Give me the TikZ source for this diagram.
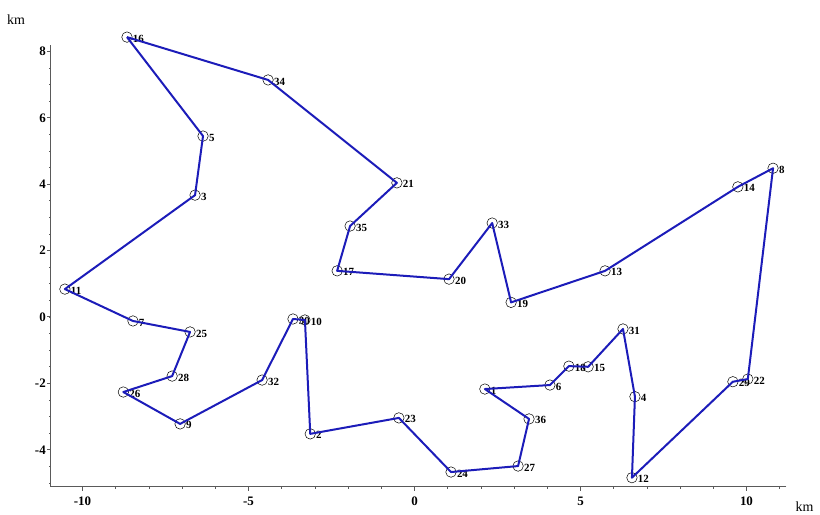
\documentclass[tikz,border=0pt]{standalone}
\usepackage{fontspec}
\setmainfont{Liberation Serif}
\definecolor{tourblue}{RGB}{28,28,185}
\definecolor{axisgray}{RGB}{90,90,90}
\begin{document}
\begin{tikzpicture}[x=33.2bp,y=33.2bp,
  pt/.style={circle,draw=black,line width=0.5bp,minimum size=10.5bp,inner sep=0pt},
  lbl/.style={font=\fontsize{11}{12}\selectfont\bfseries,inner sep=0.3bp,yshift=-1.5bp},
  tour/.style={draw=tourblue,line width=2bp,line join=round},
  axisline/.style={draw=axisgray,line width=1bp},
  ticklbl/.style={font=\fontsize{13}{14}\selectfont\bfseries,inner sep=0pt},
  unitlbl/.style={font=\fontsize{14}{16}\selectfont,inner sep=0pt}]
\useasboundingbox (-12.485,-5.964) rectangle (12.214,9.548);
% axes
\coordinate (o) at (-10.95,-5.12);
\coordinate (xe) at (11.2,-5.12);
\coordinate (ye) at (-10.95,8.18);
\draw[axisline] (xe) -- (o) -- (ye);
\foreach \t in {-10,-9,...,11} \draw[axisline,line width=0.6bp] (\t,-5.12) -- (\t,-5.19);
\foreach \t in {-10,-5,0,5,10} {
  \draw[axisline] (\t,-5.12) -- (\t,-5.24);
  \node[ticklbl] at (\t,-5.55) {\t};
}
\foreach \t in {-5,-4.5,...,8} \draw[axisline,line width=0.6bp] (-10.95,\t) -- (-11.02,\t);
\foreach \t in {-4,-2,0,2,4,6,8} {
  \draw[axisline] (-10.95,\t) -- (-11.07,\t);
  \node[ticklbl,anchor=east] at (-11.1,\t) {\t};
}
\node[unitlbl] (kmy) at (-12.0,8.95) {km};
\node[unitlbl] (kmx) at (11.75,-5.72) {km};
% points
\foreach \n/\x/\y in {
  1/2.12/-2.17, 2/-3.14/-3.52, 3/-6.61/3.67, 4/6.64/-2.40, 5/-6.37/5.45,
  6/4.08/-2.05, 7/-8.48/-0.12, 8/10.80/4.48, 9/-7.06/-3.22, 10/-3.30/-0.09,
  11/-10.53/0.84, 12/6.55/-4.84, 13/5.74/1.39, 14/9.74/3.92, 15/5.23/-1.50,
  16/-8.66/8.43, 17/-2.33/1.39, 18/4.65/-1.48, 19/2.91/0.44, 20/1.04/1.14,
  21/-0.53/4.04, 22/10.04/-1.87, 23/-0.47/-3.04, 24/1.10/-4.67, 25/-6.76/-0.45,
  26/-8.77/-2.26, 27/3.12/-4.49, 28/-7.30/-1.78, 29/9.59/-1.95, 30/-3.66/-0.06,
  31/6.28/-0.36, 32/-4.59/-1.90, 33/2.34/2.83, 34/-4.41/7.14, 35/-1.94/2.74,
  36/3.45/-3.07}
  \node[pt,label={[lbl]0:\n}] (p\n) at (\x,\y) {};
% tour
\draw[tour] (p16.center)
  \foreach \n in {34,21,35,17,20,33,19,13,14,8,22,29,12,4,31,15,18,6,1,36,27,24,23,2,10,30,32,9,26,28,25,7,11,3,5} { -- (p\n.center) }
  -- (p16.center);
\end{tikzpicture}
\end{document}
